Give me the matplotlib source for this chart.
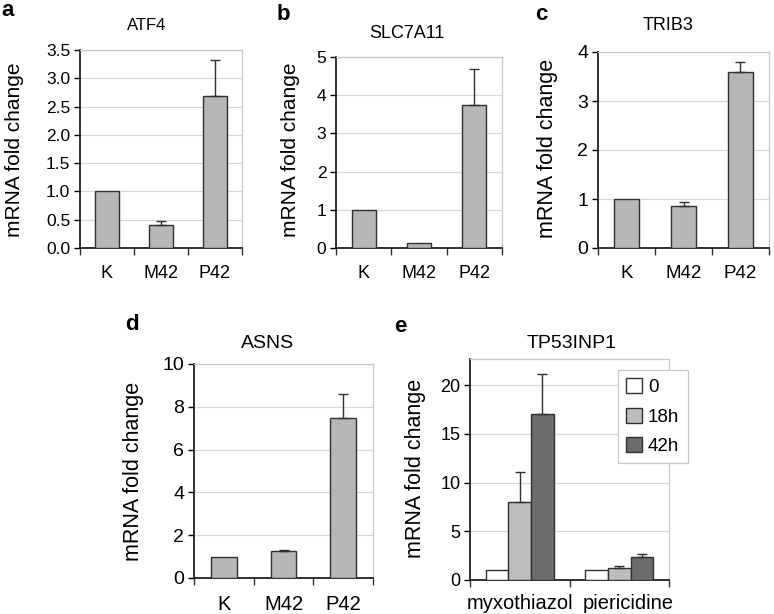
import matplotlib
matplotlib.use('Agg')
import matplotlib.pyplot as plt
import matplotlib.transforms as mtransforms
import numpy as np

plt.rcParams['font.family'] = ['Liberation Sans', 'DejaVu Sans']

# ---------------- data ----------------
categories = ['K', 'M42', 'P42']
atf4 = [1.0, 0.40, 2.68]
atf4_err = [0.0, 0.08, 0.64]
slc7a11 = [1.0, 0.13, 3.75]
slc7a11_err = [0.0, 0.0, 0.93]
trib3 = [1.0, 0.85, 3.60]
trib3_err = [0.0, 0.08, 0.20]
asns = [1.0, 1.28, 7.50]
asns_err = [0.0, 0.05, 1.10]

treatments = ['myxothiazol', 'piericidine']
timepoints = ['0', '18h', '42h']
tp53_0 = [1.0, 1.0]
tp53_18 = [8.05, 1.26]
tp53_42 = [17.1, 2.38]
tp53_0_err = [0.0, 0.0]
tp53_18_err = [3.0, 0.17]
tp53_42_err = [4.05, 0.27]

# ---------------- figure ----------------
W, H = 774, 614
fig = plt.figure(figsize=(W / 100, H / 100), dpi=100)

BAR = '#b6b6b6'
EDGE = '#303030'


def ax_px(l, t, r, b):
    return fig.add_axes([l / W, 1 - b / H, (r - l) / W, (b - t) / H])


def ftext(x, y, s, **kw):
    kw.setdefault('ha', 'center')
    kw.setdefault('va', 'center')
    fig.text(x / W, 1 - y / H, s, **kw)


def style(ax, n, yticks, ylim, tickfs, xfs, xpad):
    ax.set_xlim(-0.5, n - 0.5)
    ax.set_ylim(*ylim)
    ax.set_yticks(yticks)
    ax.set_xticks(range(n))
    ax.set_xticks(np.arange(-0.5, n, 1.0), minor=True)
    ax.tick_params(axis='x', which='major', length=0, pad=xpad, labelsize=xfs)
    ax.tick_params(axis='x', which='minor', length=5, width=1.0, direction='out', color='#303030')
    ax.tick_params(axis='y', which='major', length=4, width=1.0, direction='out', labelsize=tickfs, pad=3)
    for s in ['left', 'bottom']:
        ax.spines[s].set_color('#202020')
        ax.spines[s].set_linewidth(1.3)
    for s in ['top', 'right']:
        ax.spines[s].set_color('#c8c8c8')
        ax.spines[s].set_linewidth(0.9)
    ax.yaxis.grid(True, color='#d8d8d8', linewidth=0.9)
    ax.set_axisbelow(True)


def simple_panel(box, vals, errs, yticks, ylim, fmt, tickfs, xfs, xpad=12):
    ax = ax_px(*box)
    x = np.arange(len(categories))
    ax.bar(x, vals, width=0.43, color=BAR, edgecolor=EDGE, linewidth=1.0, zorder=3)
    errs = np.array(errs)
    m = errs > 0
    ax.errorbar(x[m], np.array(vals)[m], yerr=[np.zeros(m.sum()), errs[m]], fmt='none',
                ecolor=EDGE, elinewidth=1.0, capsize=3.5, capthick=1.0, zorder=4)
    style(ax, len(categories), yticks, ylim, tickfs, xfs, xpad)
    ax.set_xticklabels(categories)
    ax.set_yticklabels([fmt.format(v) for v in yticks])
    return ax


# a
simple_panel((80, 50, 242, 248), atf4, atf4_err, np.arange(0, 3.51, 0.5), (0, 3.5), '{:.1f}', 12.5, 13)
ftext(147, 25, 'ATF4', fontsize=12)
ftext(15, 150, 'mRNA fold change', rotation=90, fontsize=15)
ftext(8, 10, 'a', fontsize=16, fontweight='bold')

# b
simple_panel((336, 57, 502, 248), slc7a11, slc7a11_err, np.arange(0, 5.1, 1), (0, 5), '{:.0f}', 12.5, 13)
ftext(407, 33, 'SLC7A11', fontsize=13)
ftext(290, 150, 'mRNA fold change', rotation=90, fontsize=15)
ftext(283, 14, 'b', fontsize=16, fontweight='bold')

# c
simple_panel((598, 52, 769, 248), trib3, trib3_err, np.arange(0, 4.1, 1), (0, 4), '{:.0f}', 14, 13.5)
ftext(668, 25, 'TRIB3', fontsize=13)
ftext(548, 148, 'mRNA fold change', rotation=90, fontsize=15.5)
ftext(541, 14, 'c', fontsize=16, fontweight='bold')

# d
simple_panel((194, 364, 373, 578), asns, asns_err, np.arange(0, 10.1, 2), (0, 10), '{:.0f}', 14, 14.5, xpad=12)
ftext(268, 343, 'ASNS', fontsize=14)
ftext(133, 471, 'mRNA fold change', rotation=90, fontsize=15.5)
ftext(132, 325, 'd', fontsize=16, fontweight='bold')

# e
ax = ax_px(470, 359, 669, 580)
x = np.arange(len(treatments))
wd = 0.228
series = [(tp53_0, tp53_0_err, 'white'), (tp53_18, tp53_18_err, '#bdbdbd'), (tp53_42, tp53_42_err, '#6c6c6c')]
for i, (vals, errs, col) in enumerate(series):
    xi = x + (i - 1) * wd
    ax.bar(xi, vals, width=wd, color=col, edgecolor=EDGE, linewidth=1.0, zorder=3, label=timepoints[i])
    errs = np.array(errs)
    m = errs > 0
    if m.any():
        ax.errorbar(xi[m], np.array(vals)[m], yerr=[np.zeros(m.sum()), errs[m]], fmt='none',
                    ecolor=EDGE, elinewidth=1.0, capsize=3.5, capthick=1.0, zorder=4)
style(ax, len(treatments), np.arange(0, 21, 5), (0, 22.7), 13, 14.5, 10)
ax.set_xticklabels(treatments)
lbl = ax.get_xticklabels()[1]
lbl.set_transform(lbl.get_transform() + mtransforms.ScaledTranslation(0.09, 0, fig.dpi_scale_trans))
leg = ax.legend(loc='upper left', bbox_to_anchor=(618 / W, 1 - 370 / H), bbox_transform=fig.transFigure,
                fontsize=13.5, frameon=True, fancybox=False, handlelength=0.85, handleheight=0.85,
                handletextpad=0.3, labelspacing=0.6, borderpad=0.45, borderaxespad=0)
leg.get_frame().set_edgecolor('#c8c8c8')
leg.get_frame().set_linewidth(0.9)
leg.get_frame().set_alpha(1)
ftext(572, 343, 'TP53INP1', fontsize=14)
ftext(415, 468, 'mRNA fold change', rotation=90, fontsize=15.5)
ftext(400, 327, 'e', fontsize=16, fontweight='bold')

fig.savefig('out.png', dpi=100, facecolor='white')
